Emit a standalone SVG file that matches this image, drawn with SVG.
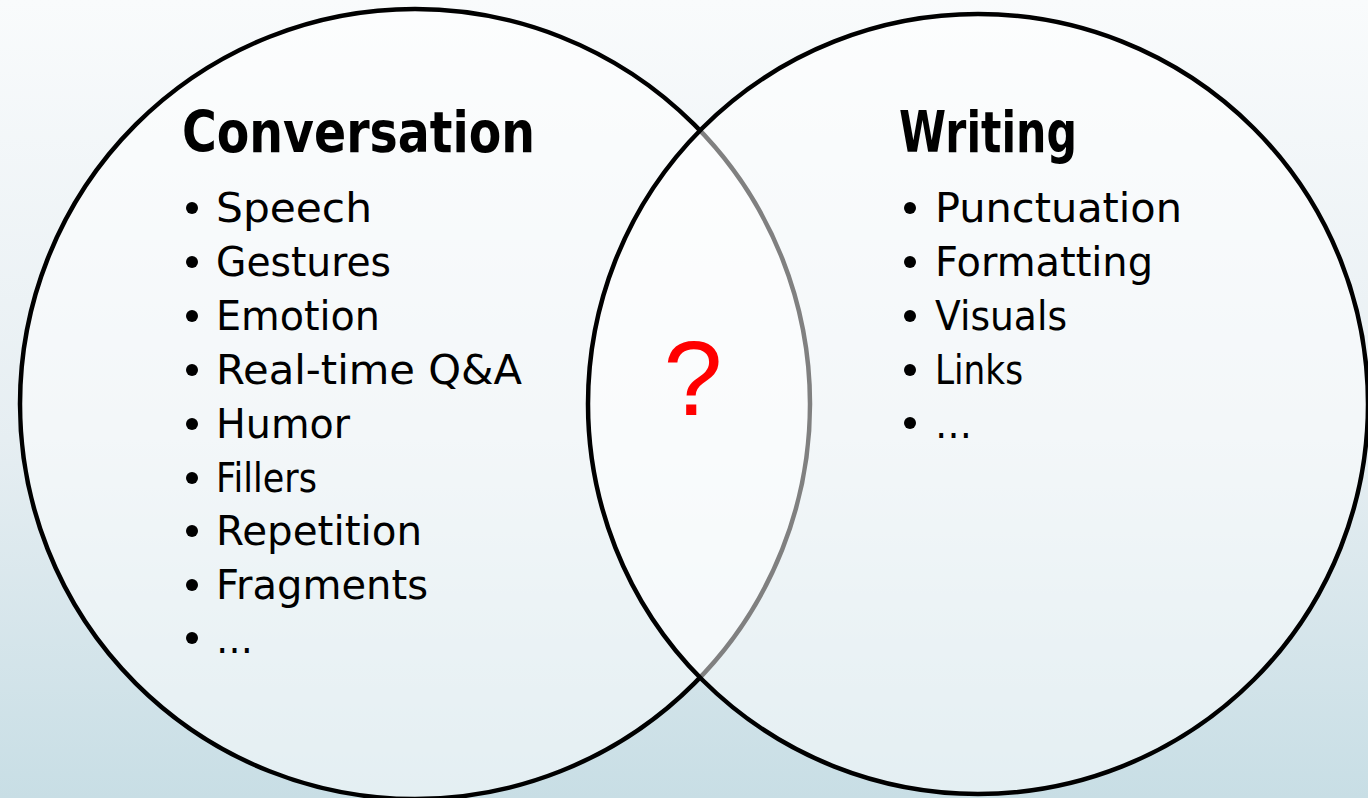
<svg xmlns="http://www.w3.org/2000/svg" width="1368" height="798" viewBox="0 0 1368 798">
  <defs>
    <linearGradient id="bg" x1="0" y1="0" x2="0" y2="1">
      <stop offset="0" stop-color="#f9fbfc"/>
      <stop offset="0.55" stop-color="#e6eef2"/>
      <stop offset="1" stop-color="#c8dee5"/>
    </linearGradient>
  </defs>
  <style>
    .circ { fill: #ffffff; fill-opacity: 0.5; stroke: #000000; stroke-width: 4.5; }
    .title { font-family: "DejaVu Sans", "Liberation Sans", sans-serif; font-weight: bold; font-size: 57px; fill: #000; }
    .item { font-family: "DejaVu Sans", "Liberation Sans", sans-serif; font-size: 41px; fill: #000; }
    .bullet { fill: #000; }
    .q { font-family: "Liberation Sans", Arial, sans-serif; font-size: 106px; fill: #ff0000; }
  </style>
  <rect x="0" y="0" width="1368" height="798" fill="url(#bg)"/>

  <g id="conversation">
    <circle class="circ" cx="415" cy="404" r="395"/>
  </g>
  <g id="writing">
    <circle class="circ" cx="978" cy="404" r="390"/>
  </g>

  <g id="conversation-text">
    <text class="title" x="182" y="152" textLength="353" lengthAdjust="spacingAndGlyphs">Conversation</text>
    <circle class="bullet" cx="192" cy="208" r="6"/>
    <text class="item" x="216" y="222" textLength="156" lengthAdjust="spacingAndGlyphs">Speech</text>
    <circle class="bullet" cx="192" cy="262" r="6"/>
    <text class="item" x="216" y="276" textLength="175" lengthAdjust="spacingAndGlyphs">Gestures</text>
    <circle class="bullet" cx="192" cy="316" r="6"/>
    <text class="item" x="216" y="330" textLength="164" lengthAdjust="spacingAndGlyphs">Emotion</text>
    <circle class="bullet" cx="192" cy="370" r="6"/>
    <text class="item" x="216" y="384" textLength="306" lengthAdjust="spacingAndGlyphs">Real-time Q&amp;A</text>
    <circle class="bullet" cx="192" cy="424" r="6"/>
    <text class="item" x="216" y="438" textLength="134" lengthAdjust="spacingAndGlyphs">Humor</text>
    <circle class="bullet" cx="192" cy="478" r="6"/>
    <text class="item" x="216" y="492" textLength="101" lengthAdjust="spacingAndGlyphs">Fillers</text>
    <circle class="bullet" cx="192" cy="531" r="6"/>
    <text class="item" x="216" y="545" textLength="206" lengthAdjust="spacingAndGlyphs">Repetition</text>
    <circle class="bullet" cx="192" cy="585" r="6"/>
    <text class="item" x="216" y="599" textLength="212" lengthAdjust="spacingAndGlyphs">Fragments</text>
    <circle class="bullet" cx="192" cy="638" r="6"/>
    <text class="item" x="216" y="653" textLength="37" lengthAdjust="spacingAndGlyphs">…</text>
  </g>

  <g id="writing-text">
    <text class="title" x="899" y="152" textLength="178" lengthAdjust="spacingAndGlyphs">Writing</text>
    <circle class="bullet" cx="910" cy="208" r="6"/>
    <text class="item" x="935" y="222" textLength="247" lengthAdjust="spacingAndGlyphs">Punctuation</text>
    <circle class="bullet" cx="910" cy="262" r="6"/>
    <text class="item" x="935" y="276" textLength="218" lengthAdjust="spacingAndGlyphs">Formatting</text>
    <circle class="bullet" cx="910" cy="316" r="6"/>
    <text class="item" x="935" y="330" textLength="132" lengthAdjust="spacingAndGlyphs">Visuals</text>
    <circle class="bullet" cx="910" cy="370" r="6"/>
    <text class="item" x="935" y="384" textLength="88" lengthAdjust="spacingAndGlyphs">Links</text>
    <circle class="bullet" cx="910" cy="423" r="6"/>
    <text class="item" x="935" y="438" textLength="37" lengthAdjust="spacingAndGlyphs">…</text>
  </g>

  <g id="overlap">
    <text class="q" x="693" y="415" text-anchor="middle">?</text>
  </g>
</svg>
